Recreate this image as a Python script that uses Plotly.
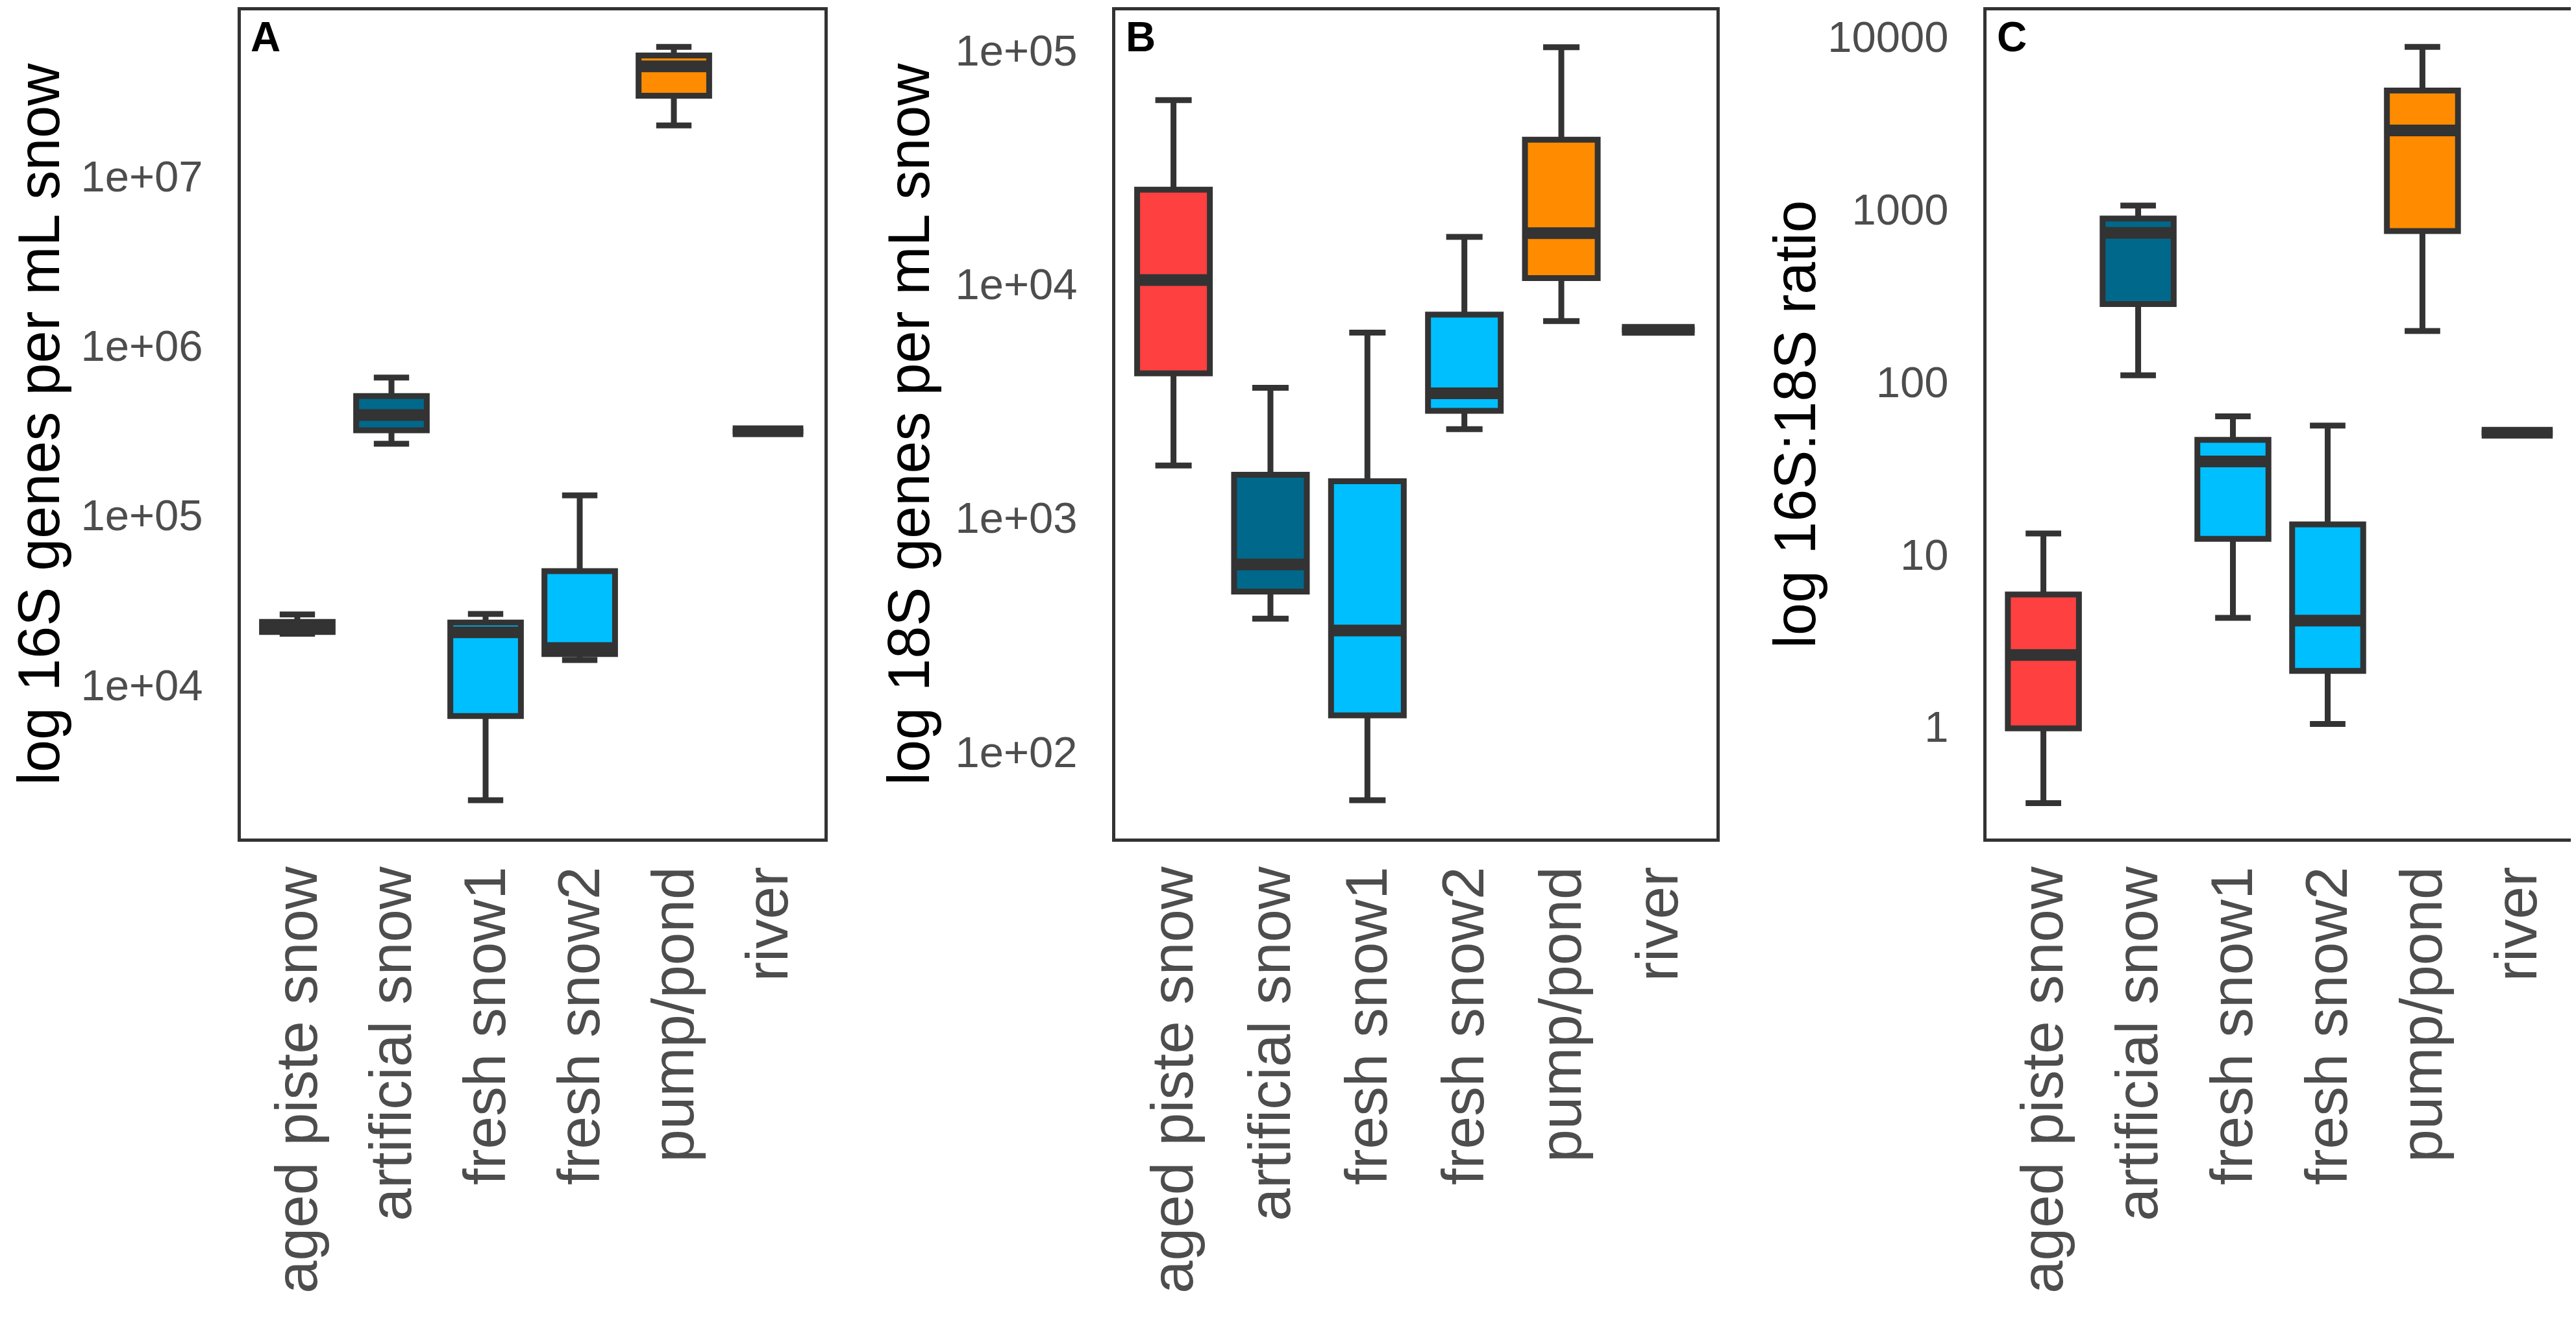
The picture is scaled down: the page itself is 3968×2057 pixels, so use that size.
import plotly.graph_objects as go

categories = ["aged piste snow", "artificial snow", "fresh snow1",
              "fresh snow2", "pump/pond", "river"]
fill_colors = ["#FF4040", "#00688B", "#00BFFF", "#00BFFF", "#FF8C00", "#FF4040"]

# panel A: 16S genes per mL snow
a_low = [20000, 264000, 2090, 14000, 19.9e6, 313000]
a_q1 = [20500, 317000, 6550, 15200, 29.8e6, 313000]
a_med = [21500, 390000, 20400, 16500, 44.4e6, 313000]
a_q3 = [23500, 505000, 23300, 46800, 51.4e6, 313000]
a_high = [26000, 649000, 26200, 131000, 57.8e6, 313000]

# panel B: 18S genes per mL snow
b_low = [1675, 371, 62, 2395, 6940, 6370]
b_q1 = [4150, 484, 143, 2870, 10600, 6370]
b_med = [10400, 632, 330, 3410, 16500, 6370]
b_q3 = [25300, 1530, 1435, 7400, 41400, 6370]
b_high = [61100, 3600, 6200, 15900, 103000, 6370]

# panel C: 16S:18S ratio
c_low = [0.361, 109, 4.28, 1.04, 197, 50.7]
c_q1 = [0.98, 282, 12.3, 2.11, 747, 50.7]
c_med = [2.61, 730, 34.5, 4.13, 2860, 50.7]
c_q3 = [5.85, 883, 46, 14.9, 4870, 50.7]
c_high = [13.2, 1050, 63, 55.7, 8710, 50.7]

a_ticks = [1e4, 1e5, 1e6, 1e7]
a_ticktext = ["1e+04", "1e+05", "1e+06", "1e+07"]
b_ticks = [1e2, 1e3, 1e4, 1e5]
b_ticktext = ["1e+02", "1e+03", "1e+04", "1e+05"]
c_ticks = [1, 10, 100, 1000, 10000]
c_ticktext = ["1", "10", "100", "1000", "10000"]

font = "Liberation Sans, Arial, sans-serif"
line_col = "#333333"
box_w = 0.75

panels = [
    ("x", "y", a_low, a_q1, a_med, a_q3, a_high),
    ("x2", "y2", b_low, b_q1, b_med, b_q3, b_high),
    ("x3", "y3", c_low, c_q1, c_med, c_q3, c_high),
]

fig = go.Figure()
for xa, ya, lo, q1, med, q3, hi in panels:
    for i, cat in enumerate(categories):
        fig.add_trace(go.Box(
            x=[i], q1=[q1[i]], median=[med[i]], q3=[q3[i]],
            lowerfence=[lo[i]], upperfence=[hi[i]],
            width=box_w, fillcolor=fill_colors[i],
            line=dict(color=line_col, width=9),
            boxpoints=False, showlegend=False, name=cat,
            xaxis=xa, yaxis=ya,
        ))
    # thicker median bars, like ggplot
    mx, my = [], []
    for i in range(len(categories)):
        mx += [i - box_w / 2, i + box_w / 2, None]
        my += [med[i], med[i], None]
    fig.add_trace(go.Scatter(
        x=mx, y=my, mode="lines", line=dict(color=line_col, width=18),
        showlegend=False, hoverinfo="skip", xaxis=xa, yaxis=ya,
    ))

x_domains = [[363 / 3968, 1262 / 3968], [1710 / 3968, 2636 / 3968],
             [3052 / 3968, 3957 / 3968]]
y_domain = [(2057 - 1284) / 2057, (2057 - 8) / 2057]
y_ranges = [[3.094, 7.977], [1.629, 5.17], [-0.647, 4.152]]
tick_sets = [(a_ticks, a_ticktext), (b_ticks, b_ticktext), (c_ticks, c_ticktext)]

layout = dict(
    width=3968, height=2057,
    margin=dict(l=0, r=0, t=0, b=0),
    paper_bgcolor="white", plot_bgcolor="white",
    font=dict(family=font),
)
for k in range(3):
    sfx = "" if k == 0 else str(k + 1)
    layout["xaxis" + sfx] = dict(
        domain=x_domains[k], anchor="y" + sfx, range=[-0.6, 5.6],
        tickvals=list(range(len(categories))), ticktext=categories,
        tickangle=-90, tickfont=dict(size=91, color="#4D4D4D", family=font),
        ticks="outside", ticklen=2, tickcolor="rgba(0,0,0,0)",
        showgrid=False, zeroline=False, showline=True, mirror=True,
        linecolor=line_col, linewidth=5, automargin=False,
    )
    layout["yaxis" + sfx] = dict(
        domain=y_domain, anchor="x" + sfx, type="log", range=y_ranges[k],
        tickvals=tick_sets[k][0], ticktext=tick_sets[k][1],
        tickfont=dict(size=67, color="#4D4D4D", family=font),
        ticks="outside", ticklen=40, tickcolor="rgba(0,0,0,0)",
        showgrid=False, zeroline=False, showline=True, mirror=True,
        linecolor=line_col, linewidth=5, automargin=False,
    )
fig.update_layout(**layout)

y_mid = (y_domain[0] + y_domain[1]) / 2
titles = ["log 16S genes per mL snow", "log 18S genes per mL snow", "log 16S:18S ratio"]
title_x = [52 / 3968, 1392 / 3968, 2757 / 3968]
for k in range(3):
    fig.add_annotation(
        text=titles[k], xref="paper", yref="paper", x=title_x[k], y=y_mid,
        textangle=-90, showarrow=False, xanchor="center", yanchor="middle",
        font=dict(size=90, color="black", family=font),
    )

letters = ["A", "B", "C"]
for k in range(3):
    sfx = "" if k == 0 else str(k + 1)
    fig.add_annotation(
        text="<b>" + letters[k] + "</b>", xref="x" + sfx + " domain",
        yref="y" + sfx + " domain", x=0.015, y=0.998, showarrow=False,
        xanchor="left", yanchor="top",
        font=dict(size=64, color="black", family=font),
    )

fig.write_html("out.html")
